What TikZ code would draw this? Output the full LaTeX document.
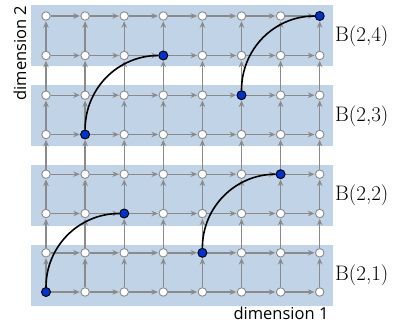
\documentclass[tikz,border=0pt]{standalone}
\usepackage{fontspec}
\newfontfamily\labelsans{Open Sans}
\usetikzlibrary{arrows.meta}
\definecolor{bandblue}{RGB}{193,211,231}
\definecolor{edgegray}{RGB}{138,138,138}
\definecolor{hotblue}{RGB}{0,51,204}
\begin{document}
\begin{tikzpicture}[x=1pt,y=-1pt,
  vtx/.style={circle, draw=edgegray, fill=white, line width=0.9pt, minimum size=8.5pt, inner sep=0pt},
  hot/.style={circle, draw=black, fill=hotblue, line width=0.9pt, minimum size=9pt, inner sep=0pt},
  flow/.style={draw=edgegray, line width=1.4pt, -{Stealth[length=6.5pt,width=5.5pt]}, shorten >=0.6pt},
  route/.style={draw=black, line width=1.6pt},
  blabel/.style={anchor=west, inner sep=0pt, font=\fontsize{21}{24}\selectfont},
  dimlabel/.style={inner sep=0pt, font=\labelsans\fontsize{16.5}{19}\selectfont}
]
\useasboundingbox (0,0) rectangle (412,324);
% bands
\fill[bandblue] (31,5) rectangle (333,66);
\fill[bandblue] (31,85) rectangle (333,146);
\fill[bandblue] (31,165) rectangle (333,226);
\fill[bandblue] (31,245) rectangle (333,306);
% vertices
\foreach \j/\y in {1/292,2/252.8,3/213.5,4/174.2,5/134.5,6/95.2,7/55.5,8/16}
  \foreach \i in {1,...,8}
    \node[vtx] (n\i\j) at ({46+39.1*(\i-1)},\y) {};
% horizontal edges
\foreach \j in {1,...,8}
  \foreach \i in {1,...,7}{
    \pgfmathtruncatemacro\nxt{\i+1}
    \draw[flow] (n\i\j) -- (n\nxt\j);
  }
% vertical edges
\foreach \i in {1,...,8}
  \foreach \j in {1,...,7}{
    \pgfmathtruncatemacro\nxt{\j+1}
    \draw[flow] (n\i\j) -- (n\i\nxt);
  }
% highlighted vertices
\node[hot] (a1) at (n11) {};
\node[hot] (b1) at (n33) {};
\node[hot] (a2) at (n52) {};
\node[hot] (b2) at (n74) {};
\node[hot] (a3) at (n25) {};
\node[hot] (b3) at (n47) {};
\node[hot] (a4) at (n66) {};
\node[hot] (b4) at (n88) {};
% routes
\draw[route] (a1) to[out=90,in=180] (b1);
\draw[route] (a2) to[out=90,in=180] (b2);
\draw[route] (a3) to[out=90,in=180] (b3);
\draw[route] (a4) to[out=90,in=180] (b4);
% labels
\node[blabel] (l4) at (335,36) {B(2,4)};
\node[blabel] (l3) at (335,116) {B(2,3)};
\node[blabel] (l2) at (335,195.5) {B(2,2)};
\node[blabel] (l1) at (335,275.5) {B(2,1)};
\node[dimlabel] (d1) at (281,313) {dimension 1};
\node[dimlabel, rotate=90] (d2) at (20,53) {dimension 2};
\end{tikzpicture}
\end{document}
